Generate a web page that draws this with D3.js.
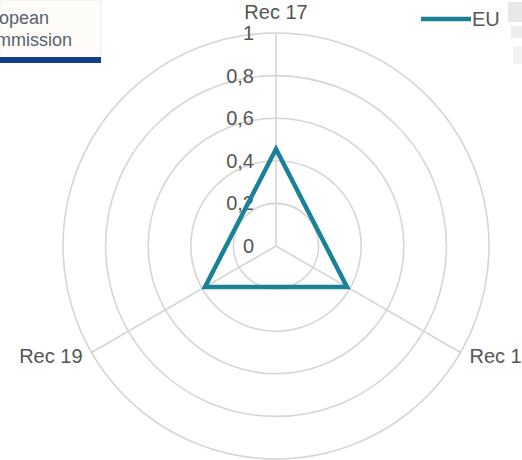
<!DOCTYPE html>
<html>
<head>
<meta charset="utf-8">
<script src="https://cdn.jsdelivr.net/npm/d3@7"></script>
<style>
  body { margin: 0; background: #fff; }
  svg { display: block; font-family: "Liberation Sans", Arial, sans-serif; }
</style>
</head>
<body>
<svg id="chart" width="522" height="460"></svg>
<script>
var categories = ['Rec 17', 'Rec 18', 'Rec 19']
  , euValues = [0.455, 0.385, 0.385]
  , ringTicks = [0, 0.2, 0.4, 0.6, 0.8, 1]
  , ringLabels = ['0', '0,2', '0,4', '0,6', '0,8', '1']
  , seriesName = 'EU'

var svg = d3.select('svg#chart')
  , cx = 276, cy = 246
  , color = '#1b8197'
  , gridColor = '#d6d6d6'
  , textColor = '#555555'

var r = d3.scaleLinear().domain([0, 1]).range([0, 213])
var angle = d3.scalePoint().domain(categories).range([0, 2 * Math.PI * 2 / 3])

var g = svg.append('g').attr('transform', 'translate(' + cx + ',' + cy + ')')

// rings
g.selectAll('circle.ring').data(ringTicks.filter(function(d) { return d > 0 }))
  .enter().append('circle').attr('class', 'ring')
  .attr('r', function(d) { return r(d) })
  .attr('fill', 'none')
  .attr('stroke', gridColor)
  .attr('stroke-width', 1.6)

// spokes
var pt = function(a, rad) { return [Math.sin(a) * rad, -Math.cos(a) * rad] }
g.selectAll('line.spoke').data(categories)
  .enter().append('line').attr('class', 'spoke')
  .attr('x1', 0).attr('y1', 0)
  .attr('x2', function(c) { return pt(angle(c), r(1))[0] })
  .attr('y2', function(c) { return pt(angle(c), r(1))[1] })
  .attr('stroke', gridColor)
  .attr('stroke-width', 1.6)

// ring labels
g.selectAll('text.tick').data(ringTicks)
  .enter().append('text').attr('class', 'tick')
  .attr('x', -22)
  .attr('y', function(d) { return -r(d) })
  .attr('dy', '0.35em')
  .attr('text-anchor', 'end')
  .attr('fill', textColor)
  .attr('font-size', 20)
  .text(function(d, i) { return ringLabels[i] })

// category labels
g.selectAll('text.cat').data(categories)
  .enter().append('text').attr('class', 'cat')
  .attr('x', function(c) {
    var p = pt(angle(c), r(1))
    return Math.abs(p[0]) < 1 ? 0 : p[0] + (p[0] > 0 ? 9 : -9)
  })
  .attr('y', function(c) {
    var p = pt(angle(c), r(1))
    return Math.abs(p[0]) < 1 ? p[1] - 21 : p[1] + 3
  })
  .attr('dy', '0.35em')
  .attr('text-anchor', function(c) {
    var p = pt(angle(c), r(1))
    return Math.abs(p[0]) < 1 ? 'middle' : (p[0] > 0 ? 'start' : 'end')
  })
  .attr('fill', textColor)
  .attr('font-size', 20)
  .text(function(c) { return c })

// series
var line = d3.lineRadial()
  .angle(function(d, i) { return angle(categories[i]) })
  .radius(function(d) { return r(d) })
  .curve(d3.curveLinearClosed)

g.append('path').datum(euValues)
  .attr('d', line)
  .attr('fill', 'none')
  .attr('stroke', color)
  .attr('stroke-width', 4.5)
  .attr('stroke-linejoin', 'miter')

// legend
var leg = svg.append('g').attr('transform', 'translate(421,19)')
leg.append('line').attr('x1', 0).attr('x2', 50).attr('y1', 0).attr('y2', 0)
  .attr('stroke', color).attr('stroke-width', 4.5)
leg.append('text').attr('x', 51).attr('dy', '0.35em')
  .attr('fill', textColor).attr('font-size', 20).text(seriesName)

// logo fragment top-left
var logo = svg.append('g')
logo.append('rect').attr('x', 0).attr('y', 0).attr('width', 101).attr('height', 58)
  .attr('fill', '#fdfcf8').attr('stroke', '#eeeeee')
logo.append('rect').attr('x', 0).attr('y', 57).attr('width', 101).attr('height', 6)
  .attr('fill', '#123f8e')
logo.append('text').attr('x', -29).attr('y', 24).attr('font-size', 18)
  .attr('fill', '#56626e').text('European')
logo.append('text').attr('x', -27).attr('y', 46).attr('font-size', 18)
  .attr('fill', '#56626e').text('Commission')

// faint clipped fragment on right edge
var frag = svg.append('g').attr('opacity', 0.35)
frag.append('rect').attr('x', 508).attr('y', 2).attr('width', 14).attr('height', 20).attr('fill', '#bbbbbb')
frag.append('rect').attr('x', 511).attr('y', 26).attr('width', 11).attr('height', 12).attr('fill', '#cccccc')
frag.append('rect').attr('x', 513).attr('y', 46).attr('width', 9).attr('height', 18).attr('fill', '#dddddd')
</script>
</body>
</html>
